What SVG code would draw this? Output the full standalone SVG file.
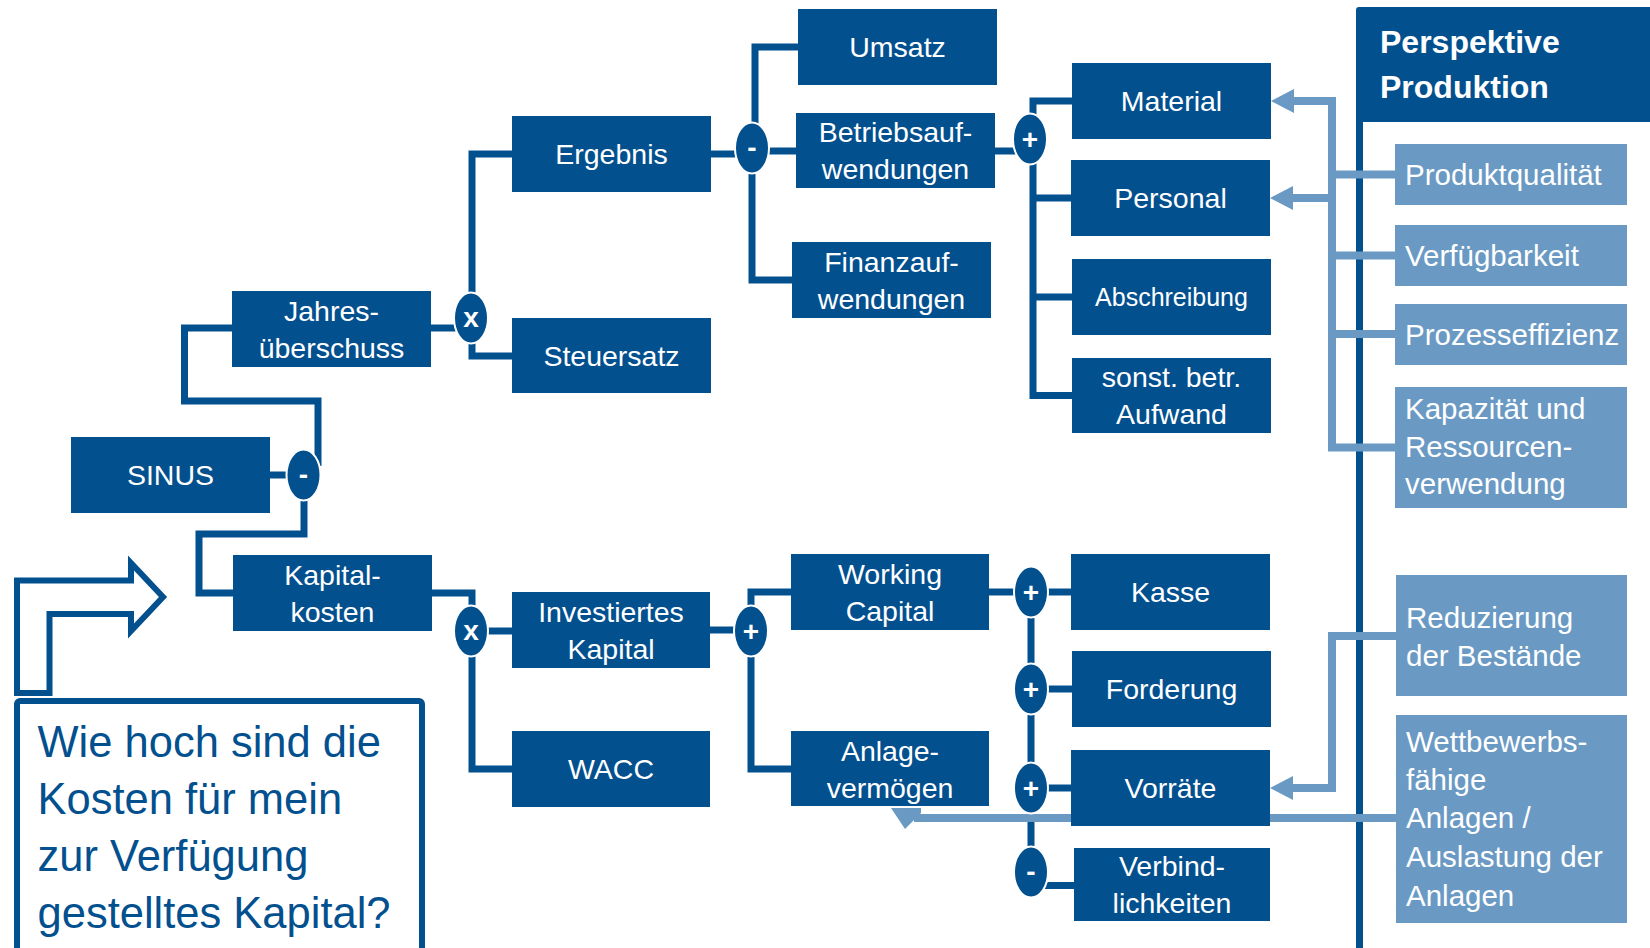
<svg xmlns="http://www.w3.org/2000/svg" width="1650" height="948" viewBox="0 0 1650 948">
<defs>
<style>
.n{fill:#03508F}
.l{fill:#6A9AC4}
.t{font-family:"Liberation Sans",Arial,sans-serif;font-size:28.5px;fill:#fff;text-anchor:middle}
.lt{font-family:"Liberation Sans",Arial,sans-serif;font-size:29.5px;fill:#fff}
.op ellipse{fill:#03508F;stroke:#fff;stroke-width:2}
.ot{font-family:"Liberation Sans",Arial,sans-serif;font-weight:bold;font-size:28px;fill:#fff;text-anchor:middle}
.c{fill:none;stroke:#03508F;stroke-width:7;stroke-linejoin:miter}
.lc{fill:none;stroke:#6A9AC4;stroke-width:8;stroke-linejoin:miter}
</style>
<marker id="ah" markerUnits="userSpaceOnUse" markerWidth="24" markerHeight="24" viewBox="0 0 23 24" refX="4" refY="12" orient="auto">
<path d="M0,0 L23,12 L0,24 z" fill="#6A9AC4"/>
</marker>
</defs>
<rect width="1650" height="948" fill="#fff"/>

<g id="panel">
<rect x="1356" y="115" width="7" height="840" fill="#03508F"/>
<rect x="1356" y="7" width="300" height="115" rx="3" fill="#03508F"/>
<text x="1380" y="53" style="font-family:'Liberation Sans',Arial,sans-serif;font-weight:bold;font-size:32px;fill:#fff">Perspektive</text>
<text x="1380" y="98" style="font-family:'Liberation Sans',Arial,sans-serif;font-weight:bold;font-size:32px;fill:#fff">Produktion</text>
</g>

<g id="connectors">
<path class="c" d="M270,475 H288"/>
<path class="c" d="M318,466 V401 H184.5 V328 H232"/>
<path class="c" d="M304,499 V534 H199 V593 H233"/>
<path class="c" d="M431,328 H456"/>
<path class="c" d="M472,294 V154 H512"/>
<path class="c" d="M472,342 V356 H512"/>
<path class="c" d="M711,154 H737"/>
<path class="c" d="M755,124 V47 H798"/>
<path class="c" d="M767,151 H796"/>
<path class="c" d="M752,172 V280 H792"/>
<path class="c" d="M995,151 H1016"/>
<path class="c" d="M1033,115 V101 H1072"/>
<path class="c" d="M1033,162 V395.5 H1072"/>
<path class="c" d="M1033,198 H1071"/>
<path class="c" d="M1033,297 H1072"/>
<path class="c" d="M432,593 H472 V607"/>
<path class="c" d="M487,631 H512"/>
<path class="c" d="M472,655 V769 H512"/>
<path class="c" d="M710,630 H736"/>
<path class="c" d="M751,607 V592 H791"/>
<path class="c" d="M751,655 V769 H791"/>
<path class="c" d="M989,592 H1016"/>
<path class="c" d="M1046,592 H1071"/>
<path class="c" d="M1031,592 V872"/>
<path class="c" d="M1046,689 H1072"/>
<path class="c" d="M1046,788 H1071"/>
<path class="c" d="M1045,885.5 H1074"/>
</g>

<g id="light-connectors">
<path class="lc" d="M1395,447.5 H1332 V101 H1290" marker-end="url(#ah)"/>
<path class="lc" d="M1332,198 H1289" marker-end="url(#ah)"/>
<path class="lc" d="M1332,174.5 H1395"/>
<path class="lc" d="M1332,255.5 H1395"/>
<path class="lc" d="M1332,334 H1395"/>
<path class="lc" d="M1396,636 H1332 V788 H1289" marker-end="url(#ah)"/>
<path class="lc" d="M1396,818 H914"/>
<polygon points="891,808 921,808 921,813 905,829" fill="#6A9AC4"/>
</g>

<g id="operators">
<g id="op-sinus" class="op"><ellipse cx="303.5" cy="475" rx="17" ry="25.5"/><text class="ot" x="303.5" y="484">-</text></g>
<g id="op-jahres" class="op"><ellipse cx="471" cy="318" rx="17" ry="25.5"/><text class="ot" x="471" y="327">x</text></g>
<g id="op-ergebnis" class="op"><ellipse cx="752" cy="148" rx="17" ry="25.5"/><text class="ot" x="752" y="157">-</text></g>
<g id="op-betrieb" class="op"><ellipse cx="1030" cy="139" rx="17" ry="25.5"/><text class="ot" x="1030" y="149">+</text></g>
<g id="op-kapital" class="op"><ellipse cx="471" cy="631" rx="17" ry="25.5"/><text class="ot" x="471" y="640">x</text></g>
<g id="op-invest" class="op"><ellipse cx="751" cy="631" rx="17" ry="25.5"/><text class="ot" x="751" y="641">+</text></g>
<g id="op-kasse" class="op"><ellipse cx="1031" cy="592" rx="17" ry="25.5"/><text class="ot" x="1031" y="602">+</text></g>
<g id="op-forderung" class="op"><ellipse cx="1031" cy="689" rx="17" ry="25.5"/><text class="ot" x="1031" y="699">+</text></g>
<g id="op-vorraete" class="op"><ellipse cx="1031" cy="788" rx="17" ry="25.5"/><text class="ot" x="1031" y="798">+</text></g>
<g id="op-verbind" class="op"><ellipse cx="1031" cy="872" rx="17" ry="25.5"/><text class="ot" x="1031" y="881">-</text></g>
</g>

<g id="n-sinus"><rect class="n" x="71" y="437" width="199" height="76"/><text class="t" x="170.5" y="485">SINUS</text></g>
<g id="n-jahres"><rect class="n" x="232" y="291" width="199" height="76"/><text class="t" x="331.5" y="320.5">Jahres-</text><text class="t" x="331.5" y="357.5">überschuss</text></g>
<g id="n-kapitalkosten"><rect class="n" x="233" y="555" width="199" height="76"/><text class="t" x="332.5" y="584.5">Kapital-</text><text class="t" x="332.5" y="621.5">kosten</text></g>
<g id="n-ergebnis"><rect class="n" x="512" y="116" width="199" height="76"/><text class="t" x="611.5" y="164">Ergebnis</text></g>
<g id="n-steuersatz"><rect class="n" x="512" y="318" width="199" height="75"/><text class="t" x="611.5" y="365.5">Steuersatz</text></g>
<g id="n-investiert"><rect class="n" x="512" y="592" width="198" height="76"/><text class="t" x="611" y="621.5">Investiertes</text><text class="t" x="611" y="658.5">Kapital</text></g>
<g id="n-wacc"><rect class="n" x="512" y="731" width="198" height="76"/><text class="t" x="611" y="779">WACC</text></g>
<g id="n-umsatz"><rect class="n" x="798" y="9" width="199" height="76"/><text class="t" x="897.5" y="57">Umsatz</text></g>
<g id="n-betrieb"><rect class="n" x="796" y="113" width="199" height="75"/><text class="t" x="895.5" y="142">Betriebsauf-</text><text class="t" x="895.5" y="179">wendungen</text></g>
<g id="n-finanz"><rect class="n" x="792" y="242" width="199" height="76"/><text class="t" x="891.5" y="271.5">Finanzauf-</text><text class="t" x="891.5" y="308.5">wendungen</text></g>
<g id="n-working"><rect class="n" x="791" y="554" width="198" height="76"/><text class="t" x="890" y="583.5">Working</text><text class="t" x="890" y="620.5">Capital</text></g>
<g id="n-anlage"><rect class="n" x="791" y="731" width="198" height="75"/><text class="t" x="890" y="760.5">Anlage-</text><text class="t" x="890" y="797.5">vermögen</text></g>
<g id="n-material"><rect class="n" x="1072" y="63" width="199" height="76"/><text class="t" x="1171.5" y="111">Material</text></g>
<g id="n-personal"><rect class="n" x="1071" y="160" width="199" height="76"/><text class="t" x="1170.5" y="208">Personal</text></g>
<g id="n-abschreibung"><rect class="n" x="1072" y="259" width="199" height="76"/><text class="t" x="1171.5" y="306" style="font-size:25px">Abschreibung</text></g>
<g id="n-sonst"><rect class="n" x="1072" y="358" width="199" height="75"/><text class="t" x="1171.5" y="387">sonst. betr.</text><text class="t" x="1171.5" y="424">Aufwand</text></g>
<g id="n-kasse"><rect class="n" x="1071" y="554" width="199" height="76"/><text class="t" x="1170.5" y="602">Kasse</text></g>
<g id="n-forderung"><rect class="n" x="1072" y="651" width="199" height="76"/><text class="t" x="1171.5" y="699">Forderung</text></g>
<g id="n-vorraete"><rect class="n" x="1071" y="750" width="199" height="76"/><text class="t" x="1170.5" y="798">Vorräte</text></g>
<g id="n-verbind"><rect class="n" x="1074" y="848" width="196" height="73"/><text class="t" x="1172" y="876">Verbind-</text><text class="t" x="1172" y="913">lichkeiten</text></g>

<g id="p-produktqualitaet"><rect class="l" x="1395" y="144" width="232" height="61"/><text class="lt" x="1405" y="184.5">Produktqualität</text></g>
<g id="p-verfuegbarkeit"><rect class="l" x="1395" y="225" width="232" height="61"/><text class="lt" x="1405" y="266">Verfügbarkeit</text></g>
<g id="p-prozess"><rect class="l" x="1395" y="304" width="232" height="61"/><text class="lt" x="1405" y="345">Prozesseffizienz</text></g>
<g id="p-kapazitaet"><rect class="l" x="1395" y="387" width="232" height="121"/><text class="lt" x="1405" y="419">Kapazität und</text><text class="lt" x="1405" y="457">Ressourcen-</text><text class="lt" x="1405" y="494">verwendung</text></g>
<g id="p-reduzierung"><rect class="l" x="1396" y="575" width="231" height="121"/><text class="lt" x="1406" y="628">Reduzierung</text><text class="lt" x="1406" y="666">der Bestände</text></g>
<g id="p-wettbewerb"><rect class="l" x="1396" y="715" width="231" height="208"/><text class="lt" x="1406" y="752">Wettbewerbs-</text><text class="lt" x="1406" y="790">fähige</text><text class="lt" x="1406" y="828">Anlagen /</text><text class="lt" x="1406" y="867">Auslastung der</text><text class="lt" x="1406" y="906">Anlagen</text></g>

<g id="bent-arrow">
<polygon points="17,693 17,580.5 131,580.5 131,563 163,597 131,631 131,614 49.5,614 49.5,693" fill="none" stroke="#03508F" stroke-width="6" stroke-linejoin="miter"/>
</g>

<g id="question">
<rect x="17" y="701" width="405" height="280" rx="3" fill="none" stroke="#03508F" stroke-width="6"/>
<g style="font-family:'Liberation Sans',Arial,sans-serif;font-size:43.5px;fill:#03508F">
<text x="37.5" y="756.5">Wie hoch sind die</text>
<text x="37.5" y="813.5">Kosten für mein</text>
<text x="37.5" y="871">zur Verfügung</text>
<text x="37.5" y="928">gestelltes Kapital?</text>
</g>
</g>
</svg>
